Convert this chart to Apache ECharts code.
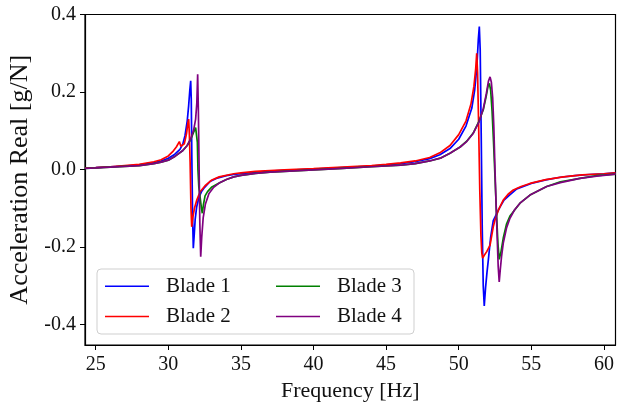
<!DOCTYPE html>
<html>
<head>
<meta charset="utf-8">
<script src="https://cdn.jsdelivr.net/npm/echarts@6/dist/echarts.min.js"></script>
<style>html,body{margin:0;padding:0;background:#fff}#c{width:620px;height:407px}</style>
</head>
<body>
<div id="c"></div>
<script>
const seriesNames = ['Blade 1', 'Blade 2', 'Blade 3', 'Blade 4'];
const xTicks = [25, 30, 35, 40, 45, 50, 55, 60];
const yTicks = [-0.4, -0.2, 0.0, 0.2, 0.4];

const b1F = [24.26, 25, 26, 27, 28, 29, 29.5, 30, 30.4, 30.8, 31.0, 31.15, 31.3, 31.4, 31.48, 31.54, 31.58, 31.62, 31.67, 31.72, 31.78, 31.85, 31.95, 32.1, 32.3, 32.5, 32.87, 33.3, 34, 34.5, 35, 36, 37, 38, 40, 42, 44, 45, 46, 47, 48, 48.7, 49.4, 50.0, 50.5, 50.9, 51.1, 51.25, 51.35, 51.42, 51.48, 51.55, 51.62, 51.69, 51.76, 51.85, 51.95, 52.04, 52.2, 52.38, 52.6, 52.84, 53.1, 53.5, 54, 54.5, 55, 56, 57, 58, 59, 60, 60.8];
const b1V = [0.004, 0.005, 0.007, 0.009, 0.012, 0.018, 0.022, 0.029, 0.038, 0.052, 0.066, 0.088, 0.125, 0.165, 0.205, 0.229, 0.18, 0.03, -0.12, -0.203, -0.17, -0.128, -0.097, -0.073, -0.056, -0.046, -0.031, -0.023, -0.016, -0.013, -0.011, -0.007, -0.004, -0.002, 0.001, 0.005, 0.009, 0.012, 0.015, 0.020, 0.028, 0.038, 0.054, 0.078, 0.112, 0.158, 0.205, 0.265, 0.335, 0.369, 0.31, 0.09, -0.15, -0.30, -0.352, -0.305, -0.265, -0.234, -0.175, -0.132, -0.115, -0.097, -0.080, -0.066, -0.050, -0.043, -0.036, -0.027, -0.020, -0.016, -0.013, -0.011, -0.009];

const b2F = [24.26, 25, 26, 27, 28, 29, 29.5, 30, 30.3, 30.55, 30.76, 30.86, 30.95, 31.1, 31.25, 31.35, 31.40, 31.45, 31.5, 31.56, 31.61, 31.68, 31.8, 31.96, 32.18, 32.53, 33.0, 33.5, 34.5, 35, 36, 37, 38, 40, 42, 44, 45, 46, 47, 48, 48.7, 49.4, 50.0, 50.5, 50.85, 51.05, 51.17, 51.24, 51.3, 51.37, 51.45, 51.53, 51.59, 51.65, 51.75, 51.93, 52.16, 52.38, 52.5, 52.73, 53.07, 53.4, 53.76, 54.3, 54.91, 56, 57.2, 58.5, 60, 60.8];
const b2V = [0.004, 0.005, 0.007, 0.010, 0.013, 0.020, 0.025, 0.035, 0.046, 0.058, 0.072, 0.060, 0.055, 0.066, 0.092, 0.120, 0.130, 0.090, 0.02, -0.10, -0.148, -0.125, -0.100, -0.079, -0.058, -0.042, -0.027, -0.019, -0.011, -0.009, -0.005, -0.003, -0.001, 0.002, 0.006, 0.010, 0.013, 0.017, 0.022, 0.031, 0.043, 0.062, 0.090, 0.125, 0.170, 0.215, 0.260, 0.300, 0.250, 0.12, -0.05, -0.17, -0.215, -0.229, -0.222, -0.212, -0.195, -0.148, -0.130, -0.105, -0.079, -0.064, -0.053, -0.044, -0.036, -0.026, -0.019, -0.014, -0.011, -0.009];

const b3F = [24.26, 25, 26, 27, 28, 29, 29.5, 30, 30.5, 31, 31.3, 31.55, 31.75, 31.88, 31.96, 32.0, 32.04, 32.1, 32.2, 32.28, 32.34, 32.42, 32.53, 32.7, 33.0, 33.5, 34, 34.5, 35, 36, 37, 38, 40, 42, 44, 45, 46, 47, 48, 48.8, 49.4, 50.1, 50.55, 51.0, 51.4, 51.7, 51.9, 52.02, 52.11, 52.2, 52.3, 52.4, 52.5, 52.6, 52.7, 52.79, 52.9, 53.07, 53.3, 53.53, 54.22, 54.91, 56.06, 57, 58.35, 59.5, 60.8];
const b3V = [0.003, 0.004, 0.006, 0.008, 0.010, 0.015, 0.019, 0.024, 0.035, 0.049, 0.062, 0.078, 0.097, 0.108, 0.113, 0.07, 0.0, -0.045, -0.075, -0.100, -0.113, -0.090, -0.068, -0.057, -0.045, -0.035, -0.026, -0.019, -0.015, -0.010, -0.007, -0.005, -0.001, 0.003, 0.007, 0.009, 0.011, 0.015, 0.022, 0.030, 0.042, 0.058, 0.073, 0.094, 0.125, 0.155, 0.190, 0.215, 0.222, 0.205, 0.150, 0.070, -0.020, -0.110, -0.190, -0.232, -0.215, -0.177, -0.140, -0.120, -0.087, -0.066, -0.044, -0.032, -0.023, -0.016, -0.012];

const b4F = [24.26, 25, 26, 27, 28, 29, 29.5, 30, 30.5, 31, 31.3, 31.55, 31.75, 31.88, 31.96, 32.02, 32.07, 32.12, 32.17, 32.23, 32.3, 32.4, 32.55, 32.8, 33.1, 33.5, 34, 34.5, 35, 36, 37, 38, 40, 42, 44, 45, 46, 47, 48, 48.8, 49.4, 50.1, 50.55, 51.0, 51.4, 51.7, 51.9, 52.05, 52.16, 52.25, 52.34, 52.42, 52.5, 52.6, 52.72, 52.79, 52.86, 52.95, 53.07, 53.3, 53.53, 53.85, 54.22, 54.91, 56.06, 57, 58.35, 59.5, 60.8];
const b4V = [0.003, 0.004, 0.006, 0.008, 0.010, 0.015, 0.019, 0.024, 0.035, 0.049, 0.062, 0.080, 0.103, 0.130, 0.170, 0.246, 0.15, 0.0, -0.14, -0.225, -0.175, -0.125, -0.090, -0.062, -0.047, -0.035, -0.026, -0.019, -0.015, -0.010, -0.007, -0.005, -0.001, 0.003, 0.007, 0.009, 0.011, 0.015, 0.022, 0.030, 0.042, 0.058, 0.072, 0.093, 0.123, 0.158, 0.195, 0.228, 0.239, 0.225, 0.185, 0.110, 0.0, -0.120, -0.250, -0.290, -0.260, -0.225, -0.190, -0.150, -0.126, -0.104, -0.087, -0.066, -0.044, -0.034, -0.023, -0.017, -0.012];

const colors = ['#0000ff', '#ff0000', '#008000', '#800080'];
const freqs = [b1F, b2F, b3F, b4F];
const vals = [b1V, b2V, b3V, b4V];

const FONT = '"Liberation Serif", "DejaVu Serif", serif';
const chart = echarts.init(document.getElementById('c'), null, {renderer: 'canvas'});

const series = seriesNames.map((name, i) => ({
  name: name,
  type: 'line',
  data: freqs[i].map((f, k) => [f, vals[i][k]]),
  showSymbol: false,
  symbol: 'none',
  color: colors[i],
  lineStyle: {color: colors[i], width: 1.7},
  smooth: false,
  animation: false
}));

const legendCommon = {
  orient: 'vertical',
  icon: 'rect',
  itemWidth: 44,
  itemHeight: 1.6,
  itemGap: 9.3,
  padding: 0,
  textStyle: {fontFamily: FONT, fontSize: 21, color: '#111', lineHeight: 20, padding: [0, 0, 0, 12]},
  selectedMode: false
};

chart.setOption({
  animation: false,
  backgroundColor: '#fff',
  grid: {left: 85, top: 14.5, width: 530.5, height: 330.5, show: true, borderColor: '#000', borderWidth: 1.2,
    backgroundColor: 'transparent', containLabel: false, outerBoundsMode: 'none'},
  xAxis: {
    type: 'value', min: 24.26, max: 60.8,
    name: 'Frequency [Hz]', nameLocation: 'middle', nameGap: 33,
    nameTextStyle: {fontFamily: FONT, fontSize: 22, color: '#111'},
    axisLine: {show: true, onZero: false, lineStyle: {color: '#000', width: 1.2}},
    axisTick: {show: true, inside: false, length: 5, lineStyle: {color: '#000', width: 1}, customValues: xTicks},
    axisLabel: {customValues: xTicks, fontFamily: FONT, fontSize: 20, color: '#111', margin: 10},
    splitLine: {show: false}
  },
  yAxis: {
    type: 'value', min: -0.453, max: 0.4,
    name: 'Acceleration Real [g/N]', nameLocation: 'middle', nameGap: 47,
    nameTextStyle: {fontFamily: FONT, fontSize: 26, color: '#111'},
    axisLine: {show: true, onZero: false, lineStyle: {color: '#000', width: 1.2}},
    axisTick: {show: true, inside: false, length: 5, lineStyle: {color: '#000', width: 1}, customValues: yTicks},
    axisLabel: {customValues: yTicks, fontFamily: FONT, fontSize: 20, color: '#111', margin: 9,
      formatter: v => v.toFixed(1)},
    splitLine: {show: false}
  },
  graphic: [{
    type: 'rect', z: 3,
    shape: {x: 97, y: 269, width: 317, height: 65, r: 4},
    style: {fill: 'rgba(255,255,255,0.85)', stroke: '#cfcfcf', lineWidth: 1}
  }],
  legend: [
    Object.assign({}, legendCommon, {data: ['Blade 1', 'Blade 2'], left: 105, top: 275.7}),
    Object.assign({}, legendCommon, {data: ['Blade 3', 'Blade 4'], left: 276, top: 275.7})
  ],
  series: series
});
</script>
</body>
</html>
